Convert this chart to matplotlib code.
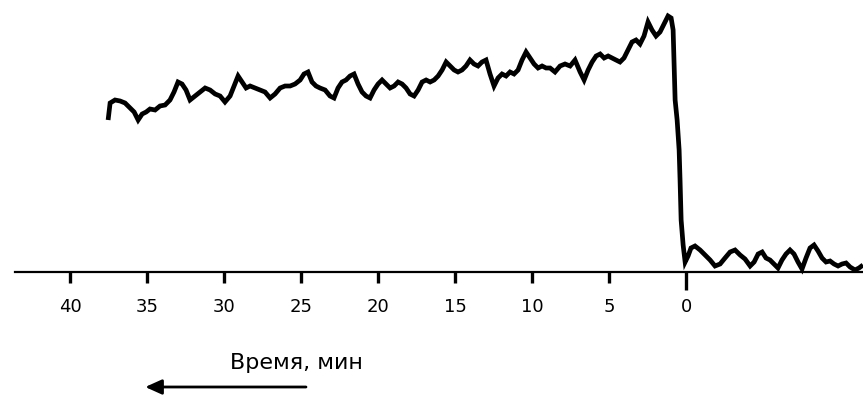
import matplotlib
matplotlib.use('Agg')
from matplotlib import pyplot as plt
import numpy as np

# время до/после момента 0, мин (ось идёт справа налево)
time_min = [
    37.53, 37.40, 37.08, 36.75, 36.43, 36.10, 35.84, 35.58, 35.32, 35.06,
    34.81, 34.48, 34.16, 33.83, 33.51, 33.25, 32.99, 32.73, 32.47, 32.21,
    31.88, 31.56, 31.23, 30.91, 30.58, 30.26, 29.94, 29.61, 29.35, 29.09,
    28.83, 28.57, 28.31, 27.99, 27.66, 27.34, 27.01, 26.69, 26.36, 26.04,
    25.71, 25.39, 25.06, 24.81, 24.55, 24.29, 24.03, 23.77, 23.44, 23.12,
    22.86, 22.60, 22.34, 22.08, 21.82, 21.56, 21.30, 21.04, 20.78, 20.52,
    20.26, 20.00, 19.74, 19.48, 19.22, 18.96, 18.70, 18.44, 18.18, 17.92,
    17.66, 17.40, 17.14, 16.88, 16.62, 16.36, 16.10, 15.84, 15.58, 15.32,
    15.06, 14.81, 14.55, 14.29, 14.03, 13.77, 13.51, 13.25, 12.99, 12.73,
    12.47, 12.21, 11.95, 11.69, 11.43, 11.17, 10.91, 10.65, 10.39, 10.13,
    9.87, 9.61, 9.35, 9.09, 8.83, 8.51, 8.18, 7.86, 7.53, 7.21,
    6.88, 6.62, 6.36, 6.10, 5.84, 5.58, 5.32, 5.06, 4.81, 4.55,
    4.29, 4.03, 3.77, 3.51, 3.25, 2.99, 2.73, 2.47, 2.21, 1.95,
    1.69, 1.43, 1.17, 0.97, 0.84, 0.71, 0.58, 0.45, 0.39, 0.32,
    0.19, 0.06, -0.13, -0.32, -0.58, -0.91, -1.23, -1.56, -1.88, -2.21,
    -2.53, -2.86, -3.18, -3.51, -3.83, -4.16, -4.42, -4.68, -4.94, -5.19,
    -5.45, -5.71, -5.97, -6.23, -6.49, -6.75, -7.01, -7.27, -7.53, -7.79,
    -8.05, -8.31, -8.57, -8.83, -9.09, -9.35, -9.61, -9.87, -10.13, -10.39,
    -10.65, -10.97, -11.23, -11.49,
]

# сигнал, условные единицы
signal = [
    152, 169, 172, 171, 169, 164, 160, 152, 158, 160,
    163, 162, 166, 167, 172, 180, 190, 188, 182, 172,
    176, 180, 184, 182, 178, 176, 170, 176, 186, 196,
    190, 184, 186, 184, 182, 180, 174, 178, 184, 186,
    186, 188, 192, 198, 200, 190, 186, 184, 182, 176,
    174, 184, 190, 192, 196, 198, 188, 180, 176, 174,
    182, 188, 192, 188, 184, 186, 190, 188, 184, 178,
    176, 182, 190, 192, 190, 192, 196, 202, 210, 206,
    202, 200, 202, 206, 212, 208, 206, 210, 212, 198,
    186, 194, 198, 196, 200, 198, 202, 212, 220, 214,
    208, 204, 206, 204, 204, 200, 206, 208, 206, 212,
    200, 192, 202, 210, 216, 218, 214, 216, 214, 212,
    210, 214, 222, 230, 232, 228, 236, 250, 242, 236,
    240, 248, 256, 254, 242, 172, 152, 122, 92, 52,
    27, 10, 16, 24, 26, 22, 17, 12, 6, 8,
    14, 20, 22, 17, 13, 6, 10, 18, 20, 14,
    12, 8, 4, 12, 18, 22, 18, 10, 3, 14,
    24, 27, 21, 14, 10, 11, 8, 6, 8, 9,
    5, 2, 4, 7,
]

tick_vals = [40, 35, 30, 25, 20, 15, 10, 5, 0]
x_label = 'Время, мин'

fig = plt.figure(figsize=(8.63, 3.97), dpi=100)
ax = fig.add_axes([0, 0, 1, 1])

ax.plot(time_min, signal, color='black', lw=3.4,
        solid_joinstyle='miter', solid_capstyle='butt')

# ось времени перевёрнута: 0 справа, 40 слева
ax.set_xlim(44.55, -11.49)
ax.set_ylim(-125, 272)

for side in ['left', 'right', 'top']:
    ax.spines[side].set_visible(False)
ax.spines['bottom'].set_position(('data', 0))
ax.spines['bottom'].set_bounds(43.6, -11.49)
ax.spines['bottom'].set_linewidth(1.6)

ax.set_yticks([])
ax.set_xticks(tick_vals)
ax.set_xticklabels([str(v) for v in tick_vals])
ax.tick_params(axis='x', direction='out', length=8, width=2.4,
               labelsize=13, pad=11, colors='black')
# у нуля риска длиннее
ax.xaxis.get_major_ticks()[-1].tick1line.set_markersize(13)

ax.text(25.3, -91, x_label, fontsize=16, ha='center', va='center')
ax.annotate('', xy=(35.3, -115), xytext=(24.5, -115),
            arrowprops=dict(arrowstyle='-|>,head_length=1.0,head_width=0.45',
                            color='black', lw=2))

fig.savefig('out.png', dpi=100)
